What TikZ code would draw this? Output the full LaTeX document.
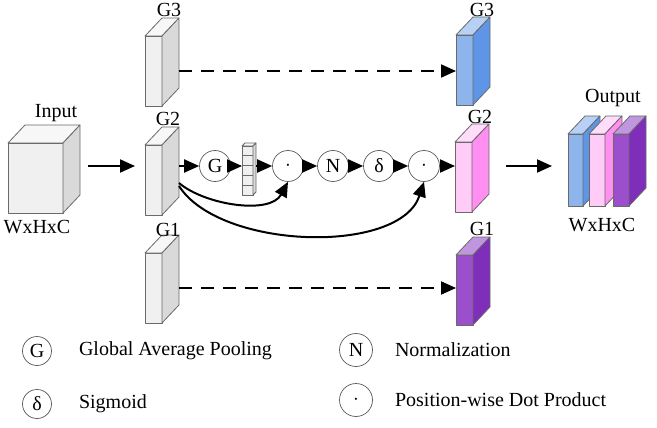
\documentclass[tikz,border=0pt]{standalone}
\usepackage{fontspec}
\setmainfont{Liberation Serif}
\usetikzlibrary{arrows.meta, positioning, calc}
\definecolor{BlockLine}{HTML}{6A6A6A}
\definecolor{OpLine}{HTML}{5A5A5A}
\definecolor{GrayFront}{HTML}{F0F0F0}
\definecolor{GraySide}{HTML}{D9D9D9}
\definecolor{GrayTop}{HTML}{F7F7F7}
\definecolor{BlueFront}{HTML}{8DB5EC}
\definecolor{BlueSide}{HTML}{5E95E6}
\definecolor{BlueTop}{HTML}{B7D0F3}
\definecolor{PinkFront}{HTML}{FFCBF7}
\definecolor{PinkSide}{HTML}{FF8FF1}
\definecolor{PinkTop}{HTML}{FFDDFA}
\definecolor{PurpleFront}{HTML}{9B4FCC}
\definecolor{PurpleSide}{HTML}{7E2EB8}
\definecolor{PurpleTop}{HTML}{C196E0}
\tikzset{
    % faces of the blocks
    face/.style={
        draw=BlockLine,
        line width=0.8pt,
        line join=round
    },
    frontface/.style={
        face,
        rectangle,
        inner sep=0pt,
        outer sep=0pt,
        minimum width=17pt,
        minimum height=70pt,
        anchor=north west
    },
    % operators
    op/.style={
        circle,
        draw=OpLine,
        line width=0.7pt,
        minimum size=31pt,
        inner sep=0pt,
        font=\fontsize{20}{22}\selectfont
    },
    txt/.style={
        inner sep=1pt,
        font=\fontsize{20}{22}\selectfont
    },
    % arrows
    arrow/.style={
        -{Triangle[length=15pt,width=13pt]},
        line width=2pt
    },
    dashedarrow/.style={
        arrow,
        dash pattern=on 13pt off 9pt
    }
}
% name, position, front, side, top colours
\newcommand{\cuboid}[6][]{%
    \node[frontface, fill=#4, #1] (#2) at #3 {};
    \draw[face, fill=#6] (#2.north west) -- ++(17,-18) -- ($(#2.north east)+(17,-18)$) -- (#2.north east) -- cycle;
    \draw[face, fill=#5] (#2.north east) -- ++(17,-18) -- ($(#2.south east)+(17,-18)$) -- (#2.south east) -- cycle;
}

\begin{document}
\begin{tikzpicture}[x=1pt, y=-1pt]
    \useasboundingbox (0,0) rectangle (657,428);

    % input
    \cuboid[minimum width=55pt]{inp}{(8,143)}{GrayFront}{GraySide}{GrayTop}
    \node[txt] (inptag) at (56,113) {Input};
    \node[txt] (inpdim) at (37,227) {WxHxC};

    % groups on the left
    \cuboid{g3l}{(145,36)}{GrayFront}{GraySide}{GrayTop}
    \cuboid{g2l}{(145,145)}{GrayFront}{GraySide}{GrayTop}
    \cuboid{g1l}{(145,253)}{GrayFront}{GraySide}{GrayTop}
    \node[txt] (g3ltag) at (169,10) {G3};
    \node[txt] (g2ltag) at (168,119) {G2};
    \node[txt] (g1ltag) at (168,230) {G1};

    % groups on the right
    \cuboid{g3r}{(456,35)}{BlueFront}{BlueSide}{BlueTop}
    \cuboid{g2r}{(455,142)}{PinkFront}{PinkSide}{PinkTop}
    \cuboid{g1r}{(456,255)}{PurpleFront}{PurpleSide}{PurpleTop}
    \node[txt] (g3rtag) at (482,10) {G3};
    \node[txt] (g2rtag) at (480,117) {G2};
    \node[txt] (g1rtag) at (482,229) {G1};

    % output
    \cuboid[minimum width=15pt, minimum height=72pt]{outb}{(568,134)}{BlueFront}{BlueSide}{BlueTop}
    \cuboid[minimum width=16pt, minimum height=72pt]{outp}{(589,134)}{PinkFront}{PinkSide}{PinkTop}
    \cuboid[minimum width=16pt, minimum height=72pt]{outv}{(613,134)}{PurpleFront}{PurpleSide}{PurpleTop}
    \node[txt] (outtag) at (613,98) {Output};
    \node[txt] (outdim) at (602,225) {WxHxC};

    % operators of G2
    \node[op] (gap) at (215,166) {G};
    \node[frontface, minimum width=11pt, minimum height=49pt, fill=GrayFront] (vec) at (242,146) {};
    \foreach \k in {1,...,4}
        \draw[face] ($(vec.north west)+(0,\k*9.8)$) -- ++(11,0);
    \draw[face, fill=GrayTop] (vec.north west) -- ++(3,-3) -- ($(vec.north east)+(3,-3)$) -- (vec.north east) -- cycle;
    \draw[face, fill=GraySide] (vec.north east) -- ++(3,-3) -- ($(vec.south east)+(3,-3)$) -- (vec.south east) -- cycle;
    \node[op] (dot1) at (288,166) {$\cdot$};
    \node[op] (norm) at (333,166) {N};
    \node[op] (sig) at (379,166) {δ};
    \node[op] (dot2) at (424,166) {$\cdot$};

    % connections
    \draw[arrow, shorten <=25pt, shorten >=10pt] (inp.east |- gap) -- (g2l.west |- gap);
    \draw[arrow, shorten <=17pt] (g2l.east |- gap) -- (gap);
    \draw[arrow] (gap) -- (vec.west |- gap);
    \draw[arrow, shorten <=3pt] (vec.east |- dot1) -- (dot1);
    \draw[arrow] (dot1) -- (norm);
    \draw[arrow] (norm) -- (sig);
    \draw[arrow] (sig) -- (dot2);
    \draw[arrow] (dot2) -- (g2r.west |- dot2);
    \draw[arrow] ([shift={(17,3)}]g2l.east) .. controls (205,205) and (270,215) .. (dot1.south);
    \draw[arrow] ([shift={(17,6)}]g2l.east) .. controls (220,250) and (400,255) .. (dot2.south);
    \draw[dashedarrow, shorten <=17pt] (g3l.east) -- (g3r.west |- g3l.east);
    \draw[dashedarrow, shorten <=17pt] (g1l.east) -- (g1r.west |- g1l.east);
    \draw[arrow, shorten <=34pt, shorten >=16pt] (g2r.east |- gap) -- (outb.west |- gap);

    % legend
    \node[op, minimum size=29pt] (lg) at (37,351) {G};
    \node[txt, right=26pt of lg] (lgtxt) {Global Average Pooling};
    \node[op, minimum size=29pt] (ls) at (37,404) {δ};
    \node[txt, right=26pt of ls] (lstxt) {Sigmoid};
    \node[op, minimum size=33pt] (ln) at (356,350) {N};
    \node[txt, right=21pt of ln] (lntxt) {Normalization};
    \node[op, minimum size=33pt] (ld) at (356,400) {$\cdot$};
    \node[txt, right=21pt of ld] (ldtxt) {Position-wise Dot Product};
\end{tikzpicture}
\end{document}
